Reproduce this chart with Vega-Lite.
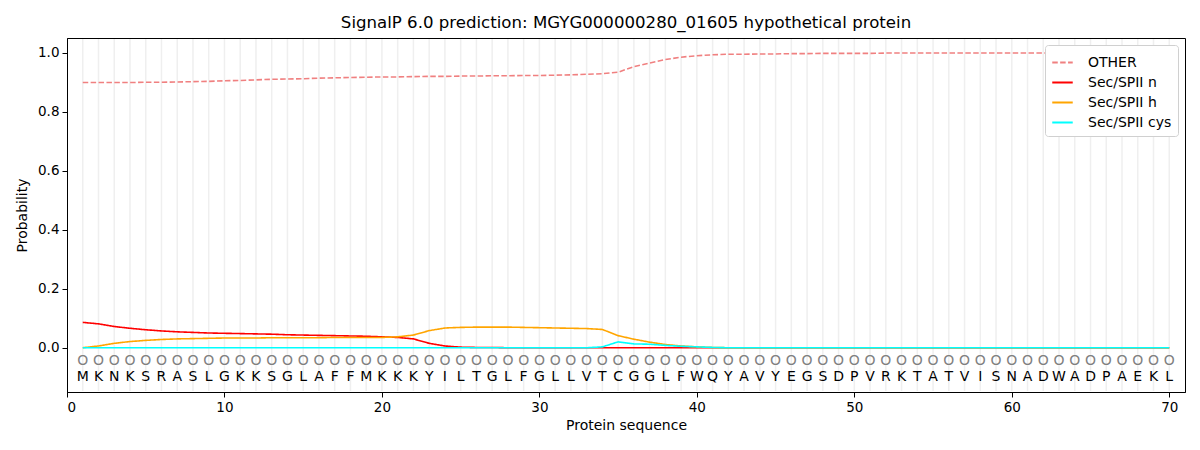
{
  "$schema": "https://vega.github.io/schema/vega-lite/v6.json",
  "width": 1118,
  "height": 354,
  "autosize": {"type": "none"},
  "padding": {"left": 67, "top": 38, "right": 15, "bottom": 58},
  "title": {"text": "SignalP 6.0 prediction: MGYG000000280_01605 hypothetical protein", "font": "DejaVu Sans", "fontSize": 16.6, "fontWeight": "normal", "color": "#000", "offset": 6},
  "config": {
    "view": {"stroke": "#000", "strokeWidth": 1},
    "font": "DejaVu Sans",
    "axis": {"domainColor": "#000", "tickColor": "#000", "labelColor": "#000", "titleColor": "#000", "labelFont": "DejaVu Sans", "titleFont": "DejaVu Sans", "labelFontSize": 13.5, "titleFontSize": 14, "titleFontWeight": "normal", "grid": false, "tickSize": 5}
  },
  "data": {"values": [
    {"pos": 1, "aa": "M", "OTHER": 0.899, "Sec/SPII n": 0.086, "Sec/SPII h": 0.000, "Sec/SPII cys": 0.0},
    {"pos": 2, "aa": "K", "OTHER": 0.899, "Sec/SPII n": 0.081, "Sec/SPII h": 0.006, "Sec/SPII cys": 0.0},
    {"pos": 3, "aa": "N", "OTHER": 0.899, "Sec/SPII n": 0.072, "Sec/SPII h": 0.015, "Sec/SPII cys": 0.0},
    {"pos": 4, "aa": "K", "OTHER": 0.899, "Sec/SPII n": 0.066, "Sec/SPII h": 0.021, "Sec/SPII cys": 0.0},
    {"pos": 5, "aa": "S", "OTHER": 0.900, "Sec/SPII n": 0.061, "Sec/SPII h": 0.025, "Sec/SPII cys": 0.0},
    {"pos": 6, "aa": "R", "OTHER": 0.900, "Sec/SPII n": 0.057, "Sec/SPII h": 0.028, "Sec/SPII cys": 0.0},
    {"pos": 7, "aa": "A", "OTHER": 0.901, "Sec/SPII n": 0.054, "Sec/SPII h": 0.030, "Sec/SPII cys": 0.0},
    {"pos": 8, "aa": "S", "OTHER": 0.902, "Sec/SPII n": 0.052, "Sec/SPII h": 0.031, "Sec/SPII cys": 0.0},
    {"pos": 9, "aa": "L", "OTHER": 0.903, "Sec/SPII n": 0.050, "Sec/SPII h": 0.032, "Sec/SPII cys": 0.0},
    {"pos": 10, "aa": "G", "OTHER": 0.905, "Sec/SPII n": 0.049, "Sec/SPII h": 0.033, "Sec/SPII cys": 0.0},
    {"pos": 11, "aa": "K", "OTHER": 0.906, "Sec/SPII n": 0.048, "Sec/SPII h": 0.033, "Sec/SPII cys": 0.0},
    {"pos": 12, "aa": "K", "OTHER": 0.908, "Sec/SPII n": 0.047, "Sec/SPII h": 0.033, "Sec/SPII cys": 0.0},
    {"pos": 13, "aa": "S", "OTHER": 0.910, "Sec/SPII n": 0.046, "Sec/SPII h": 0.034, "Sec/SPII cys": 0.0},
    {"pos": 14, "aa": "G", "OTHER": 0.911, "Sec/SPII n": 0.044, "Sec/SPII h": 0.034, "Sec/SPII cys": 0.0},
    {"pos": 15, "aa": "L", "OTHER": 0.912, "Sec/SPII n": 0.043, "Sec/SPII h": 0.034, "Sec/SPII cys": 0.0},
    {"pos": 16, "aa": "A", "OTHER": 0.914, "Sec/SPII n": 0.042, "Sec/SPII h": 0.034, "Sec/SPII cys": 0.0},
    {"pos": 17, "aa": "F", "OTHER": 0.915, "Sec/SPII n": 0.041, "Sec/SPII h": 0.035, "Sec/SPII cys": 0.0},
    {"pos": 18, "aa": "F", "OTHER": 0.916, "Sec/SPII n": 0.040, "Sec/SPII h": 0.035, "Sec/SPII cys": 0.0},
    {"pos": 19, "aa": "M", "OTHER": 0.917, "Sec/SPII n": 0.039, "Sec/SPII h": 0.035, "Sec/SPII cys": 0.0},
    {"pos": 20, "aa": "K", "OTHER": 0.918, "Sec/SPII n": 0.037, "Sec/SPII h": 0.035, "Sec/SPII cys": 0.0},
    {"pos": 21, "aa": "K", "OTHER": 0.918, "Sec/SPII n": 0.035, "Sec/SPII h": 0.037, "Sec/SPII cys": 0.0},
    {"pos": 22, "aa": "K", "OTHER": 0.919, "Sec/SPII n": 0.030, "Sec/SPII h": 0.043, "Sec/SPII cys": 0.0},
    {"pos": 23, "aa": "Y", "OTHER": 0.920, "Sec/SPII n": 0.015, "Sec/SPII h": 0.058, "Sec/SPII cys": 0.0},
    {"pos": 24, "aa": "I", "OTHER": 0.920, "Sec/SPII n": 0.006, "Sec/SPII h": 0.067, "Sec/SPII cys": 0.0},
    {"pos": 25, "aa": "L", "OTHER": 0.921, "Sec/SPII n": 0.002, "Sec/SPII h": 0.069, "Sec/SPII cys": 0.0},
    {"pos": 26, "aa": "T", "OTHER": 0.921, "Sec/SPII n": 0.001, "Sec/SPII h": 0.070, "Sec/SPII cys": 0.0},
    {"pos": 27, "aa": "G", "OTHER": 0.922, "Sec/SPII n": 0.001, "Sec/SPII h": 0.070, "Sec/SPII cys": 0.0},
    {"pos": 28, "aa": "L", "OTHER": 0.922, "Sec/SPII n": 0.000, "Sec/SPII h": 0.070, "Sec/SPII cys": 0.0},
    {"pos": 29, "aa": "F", "OTHER": 0.923, "Sec/SPII n": 0.000, "Sec/SPII h": 0.069, "Sec/SPII cys": 0.0},
    {"pos": 30, "aa": "G", "OTHER": 0.923, "Sec/SPII n": 0.000, "Sec/SPII h": 0.068, "Sec/SPII cys": 0.0},
    {"pos": 31, "aa": "L", "OTHER": 0.924, "Sec/SPII n": 0.000, "Sec/SPII h": 0.067, "Sec/SPII cys": 0.0},
    {"pos": 32, "aa": "L", "OTHER": 0.925, "Sec/SPII n": 0.000, "Sec/SPII h": 0.066, "Sec/SPII cys": 0.0},
    {"pos": 33, "aa": "V", "OTHER": 0.927, "Sec/SPII n": 0.000, "Sec/SPII h": 0.065, "Sec/SPII cys": 0.0},
    {"pos": 34, "aa": "T", "OTHER": 0.929, "Sec/SPII n": 0.000, "Sec/SPII h": 0.062, "Sec/SPII cys": 0.003},
    {"pos": 35, "aa": "C", "OTHER": 0.934, "Sec/SPII n": 0.000, "Sec/SPII h": 0.041, "Sec/SPII cys": 0.020},
    {"pos": 36, "aa": "G", "OTHER": 0.953, "Sec/SPII n": 0.000, "Sec/SPII h": 0.029, "Sec/SPII cys": 0.013},
    {"pos": 37, "aa": "G", "OTHER": 0.965, "Sec/SPII n": 0.000, "Sec/SPII h": 0.019, "Sec/SPII cys": 0.012},
    {"pos": 38, "aa": "L", "OTHER": 0.977, "Sec/SPII n": 0.000, "Sec/SPII h": 0.011, "Sec/SPII cys": 0.008},
    {"pos": 39, "aa": "F", "OTHER": 0.985, "Sec/SPII n": 0.000, "Sec/SPII h": 0.006, "Sec/SPII cys": 0.005},
    {"pos": 40, "aa": "W", "OTHER": 0.990, "Sec/SPII n": 0.000, "Sec/SPII h": 0.003, "Sec/SPII cys": 0.003},
    {"pos": 41, "aa": "Q", "OTHER": 0.993, "Sec/SPII n": 0.000, "Sec/SPII h": 0.001, "Sec/SPII cys": 0.001},
    {"pos": 42, "aa": "Y", "OTHER": 0.995, "Sec/SPII n": 0.000, "Sec/SPII h": 0.000, "Sec/SPII cys": 0.0},
    {"pos": 43, "aa": "A", "OTHER": 0.995, "Sec/SPII n": 0.000, "Sec/SPII h": 0.000, "Sec/SPII cys": 0.0},
    {"pos": 44, "aa": "V", "OTHER": 0.996, "Sec/SPII n": 0.000, "Sec/SPII h": 0.000, "Sec/SPII cys": 0.0},
    {"pos": 45, "aa": "Y", "OTHER": 0.996, "Sec/SPII n": 0.000, "Sec/SPII h": 0.000, "Sec/SPII cys": 0.0},
    {"pos": 46, "aa": "E", "OTHER": 0.997, "Sec/SPII n": 0.000, "Sec/SPII h": 0.000, "Sec/SPII cys": 0.0},
    {"pos": 47, "aa": "G", "OTHER": 0.997, "Sec/SPII n": 0.000, "Sec/SPII h": 0.000, "Sec/SPII cys": 0.0},
    {"pos": 48, "aa": "S", "OTHER": 0.998, "Sec/SPII n": 0.000, "Sec/SPII h": 0.000, "Sec/SPII cys": 0.0},
    {"pos": 49, "aa": "D", "OTHER": 0.998, "Sec/SPII n": 0.000, "Sec/SPII h": 0.000, "Sec/SPII cys": 0.0},
    {"pos": 50, "aa": "P", "OTHER": 0.998, "Sec/SPII n": 0.000, "Sec/SPII h": 0.000, "Sec/SPII cys": 0.0},
    {"pos": 51, "aa": "V", "OTHER": 0.998, "Sec/SPII n": 0.000, "Sec/SPII h": 0.000, "Sec/SPII cys": 0.0},
    {"pos": 52, "aa": "R", "OTHER": 0.999, "Sec/SPII n": 0.000, "Sec/SPII h": 0.000, "Sec/SPII cys": 0.0},
    {"pos": 53, "aa": "K", "OTHER": 0.999, "Sec/SPII n": 0.000, "Sec/SPII h": 0.000, "Sec/SPII cys": 0.0},
    {"pos": 54, "aa": "T", "OTHER": 0.999, "Sec/SPII n": 0.000, "Sec/SPII h": 0.000, "Sec/SPII cys": 0.0},
    {"pos": 55, "aa": "A", "OTHER": 0.999, "Sec/SPII n": 0.000, "Sec/SPII h": 0.000, "Sec/SPII cys": 0.0},
    {"pos": 56, "aa": "T", "OTHER": 0.999, "Sec/SPII n": 0.000, "Sec/SPII h": 0.000, "Sec/SPII cys": 0.0},
    {"pos": 57, "aa": "V", "OTHER": 0.999, "Sec/SPII n": 0.000, "Sec/SPII h": 0.000, "Sec/SPII cys": 0.0},
    {"pos": 58, "aa": "I", "OTHER": 0.999, "Sec/SPII n": 0.000, "Sec/SPII h": 0.000, "Sec/SPII cys": 0.0},
    {"pos": 59, "aa": "S", "OTHER": 0.999, "Sec/SPII n": 0.000, "Sec/SPII h": 0.000, "Sec/SPII cys": 0.0},
    {"pos": 60, "aa": "N", "OTHER": 0.999, "Sec/SPII n": 0.000, "Sec/SPII h": 0.000, "Sec/SPII cys": 0.0},
    {"pos": 61, "aa": "A", "OTHER": 0.999, "Sec/SPII n": 0.000, "Sec/SPII h": 0.000, "Sec/SPII cys": 0.0},
    {"pos": 62, "aa": "D", "OTHER": 0.999, "Sec/SPII n": 0.000, "Sec/SPII h": 0.000, "Sec/SPII cys": 0.0},
    {"pos": 63, "aa": "W", "OTHER": 0.999, "Sec/SPII n": 0.000, "Sec/SPII h": 0.000, "Sec/SPII cys": 0.0},
    {"pos": 64, "aa": "A", "OTHER": 0.999, "Sec/SPII n": 0.000, "Sec/SPII h": 0.000, "Sec/SPII cys": 0.0},
    {"pos": 65, "aa": "D", "OTHER": 0.999, "Sec/SPII n": 0.000, "Sec/SPII h": 0.000, "Sec/SPII cys": 0.0},
    {"pos": 66, "aa": "P", "OTHER": 0.999, "Sec/SPII n": 0.000, "Sec/SPII h": 0.000, "Sec/SPII cys": 0.0},
    {"pos": 67, "aa": "A", "OTHER": 0.999, "Sec/SPII n": 0.000, "Sec/SPII h": 0.000, "Sec/SPII cys": 0.0},
    {"pos": 68, "aa": "E", "OTHER": 0.999, "Sec/SPII n": 0.000, "Sec/SPII h": 0.000, "Sec/SPII cys": 0.0},
    {"pos": 69, "aa": "K", "OTHER": 0.999, "Sec/SPII n": 0.000, "Sec/SPII h": 0.000, "Sec/SPII cys": 0.0},
    {"pos": 70, "aa": "L", "OTHER": 0.999, "Sec/SPII n": 0.000, "Sec/SPII h": 0.000, "Sec/SPII cys": 0.0}
  ]},
  "layer": [
    {
      "mark": {"type": "rule", "color": "#efefef", "strokeWidth": 1.5},
      "encoding": {
        "x": {"field": "pos", "type": "quantitative", "scale": {"domain": [0, 71], "nice": false, "zero": false}, "axis": {"title": "Protein sequence", "values": [0, 10, 20, 30, 40, 50, 60, 70], "format": "d", "labelPadding": 3, "titlePadding": 5}},
        "y": {"datum": -0.147, "type": "quantitative"},
        "y2": {"datum": 1.047}
      }
    },
    {
      "mark": {"type": "text", "text": "O", "color": "#808080", "fontSize": 14, "font": "DejaVu Sans"},
      "encoding": {
        "x": {"field": "pos", "type": "quantitative"},
        "y": {"datum": -0.045, "type": "quantitative"}
      }
    },
    {
      "mark": {"type": "text", "color": "#000", "fontSize": 14, "font": "DejaVu Sans"},
      "encoding": {
        "x": {"field": "pos", "type": "quantitative"},
        "y": {"datum": -0.1, "type": "quantitative"},
        "text": {"field": "aa"}
      }
    },
    {
      "transform": [{"fold": ["OTHER", "Sec/SPII n", "Sec/SPII h", "Sec/SPII cys"], "as": ["cls", "prob"]}],
      "mark": {"type": "line", "strokeWidth": 1.6},
      "encoding": {
        "x": {"field": "pos", "type": "quantitative"},
        "y": {"field": "prob", "type": "quantitative", "scale": {"domain": [-0.15, 1.05], "nice": false, "zero": false}, "axis": {"title": "Probability", "values": [0, 0.2, 0.4, 0.6, 0.8, 1.0], "format": ".1f", "labelPadding": 3, "titlePadding": 8}},
        "color": {"field": "cls", "type": "nominal", "scale": {"domain": ["OTHER", "Sec/SPII n", "Sec/SPII h", "Sec/SPII cys"], "range": ["#f08080", "#ff0000", "#ffa500", "#00ffff"]}, "legend": {"title": null, "orient": "top-right", "offset": 7, "fillColor": "#ffffff", "strokeColor": "#d0d0d0", "cornerRadius": 3, "padding": 6, "labelFontSize": 14, "labelFont": "DejaVu Sans", "labelColor": "#000", "symbolType": "stroke", "symbolSize": 420, "symbolStrokeWidth": 2, "rowPadding": 1, "labelOffset": 14}},
        "strokeDash": {"field": "cls", "type": "nominal", "scale": {"domain": ["OTHER", "Sec/SPII n", "Sec/SPII h", "Sec/SPII cys"], "range": [[5.5, 2.4], [1, 0], [1, 0], [1, 0]]}, "legend": null},
        "order": {"field": "pos"}
      }
    }
  ]
}
